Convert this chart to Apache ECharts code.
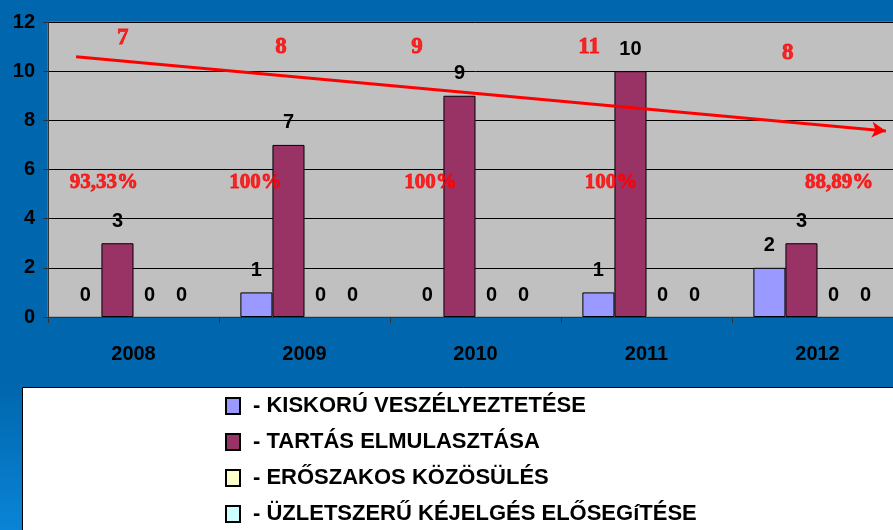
<!DOCTYPE html>
<html>
<head>
<meta charset="utf-8">
<script src="https://cdn.jsdelivr.net/npm/echarts@6/dist/echarts.min.js"></script>
<style>html,body{margin:0;padding:0;background:#0066ad;overflow:hidden;width:893px;height:530px;}#c{width:903px;height:530px;}</style>
</head>
<body>
<div id="c"></div>
<script>
const categories = ['2008', '2009', '2010', '2011', '2012'];
const seriesNames = ['KISKORÚ VESZÉLYEZTETÉSE', 'TARTÁS ELMULASZTÁSA', 'ERŐSZAKOS KÖZÖSÜLÉS', 'ÜZLETSZERŰ KÉJELGÉS ELŐSEGíTÉSE'];
const kiskoru = [0, 1, 0, 1, 2];
const tartas = [3, 7, 9, 10, 3];
const eroszakos = [0, 0, 0, 0, 0];
const uzletszeru = [0, 0, 0, 0, 0];
const seriesColors = ['#9999ff', '#993366', '#ffffcc', '#ccffff'];
const yTicks = { min: 0, max: 12, interval: 2 };
// red annotations: [x position in category units, y value, text]
const totalLabels = [[0.437, 11.35, '7'], [1.363, 11.0, '8'], [2.158, 11.0, '9'], [3.164, 11.0, '11'], [4.326, 10.74, '8']];
const percentLabels = [[0.327, 5.45, '93,33%'], [1.213, 5.45, '100%'], [2.237, 5.45, '100%'], [3.292, 5.45, '100%'], [4.626, 5.45, '88,89%']];
const trendStart = [0.164, 10.59];
const trendEnd = [4.90, 7.57];

const chart = echarts.init(document.getElementById('c'));
const sans = 'Arial, "Liberation Sans", sans-serif';
const serif = 'Liberation Serif';
const barData = [kiskoru, tartas, eroszakos, uzletszeru];

const barSeries = barData.map((d, i) => ({
  name: seriesNames[i],
  type: 'bar',
  data: d.map(v => v === 0 ? { value: v, itemStyle: { borderWidth: 0 } } : v),
  barGap: '0%',
  barCategoryGap: '25%',
  itemStyle: { color: seriesColors[i], borderColor: '#000', borderWidth: 1 },
  label: { show: true, position: 'top', distance: 12, color: '#000', fontFamily: sans, fontWeight: 'bold', fontSize: 20 },
  emphasis: { disabled: true },
  z: 2
}));

function textSeries(arr, size) {
  return {
    type: 'scatter',
    xAxisIndex: 1,
    symbolSize: 1,
    itemStyle: { color: 'rgba(0,0,0,0)' },
    data: arr.map(a => ({ value: [a[0], a[1]], name: a[2] })),
    label: { show: true, position: 'inside', formatter: '{b}', color: '#ff0000', fontFamily: serif, fontWeight: 'bold', fontSize: size, textBorderColor: '#ff0000', textBorderWidth: 0.8 },
    silent: true,
    z: 5
  };
}

chart.setOption({
  backgroundColor: {
    type: 'linear', x: 0, y: 0, x2: 0, y2: 1,
    colorStops: [{ offset: 0, color: '#0066ad' }, { offset: 0.72, color: '#0066ad' }, { offset: 1, color: '#0a84d6' }]
  },
  animation: false,
  graphic: [{
    type: 'rect', left: 22, top: 387, z: -1, silent: true,
    shape: { width: 890, height: 150 },
    style: { fill: '#ffffff', stroke: '#000', lineWidth: 1 }
  }],
  grid: { left: 48, top: 22, right: 0, height: 295, show: true, backgroundColor: '#c0c0c0', borderColor: '#808080', borderWidth: 1 },
  legend: {
    orient: 'vertical',
    left: 225, top: 395,
    data: seriesNames,
    padding: 0,
    itemWidth: 14, itemHeight: 16,
    itemGap: 14,
    icon: 'rect',
    formatter: n => '- ' + n,
    textStyle: { color: '#000', fontFamily: sans, fontWeight: 'bold', fontSize: 22, lineHeight: 20, padding: [0, 0, 0, 8] },
    selectedMode: false
  },
  xAxis: [{
    type: 'category',
    data: categories,
    axisLine: { lineStyle: { color: '#333', width: 1 } },
    axisTick: { show: true, length: 6, lineStyle: { color: '#333' } },
    axisLabel: { color: '#000', fontFamily: sans, fontWeight: 'bold', fontSize: 20, margin: 27 }
  }, {
    type: 'value', min: 0, max: 5, show: false
  }],
  yAxis: {
    type: 'value',
    min: yTicks.min, max: yTicks.max, interval: yTicks.interval,
    axisLine: { show: true, lineStyle: { color: '#333' } },
    axisTick: { show: true, length: 5, lineStyle: { color: '#333' } },
    splitLine: { lineStyle: { color: '#000', width: 1 } },
    axisLabel: { color: '#000', fontFamily: sans, fontWeight: 'bold', fontSize: 20, margin: 13 }
  },
  series: barSeries.concat([
    textSeries(totalLabels, 23),
    textSeries(percentLabels, 21),
    {
      type: 'scatter',
      xAxisIndex: 1,
      symbolSize: 0,
      data: [],
      silent: true,
      z: 6,
      markLine: {
        silent: true,
        symbol: ['none', 'arrow'],
        symbolSize: [12, 14],
        label: { show: false },
        lineStyle: { color: '#ff0000', width: 3, type: 'solid' },
        data: [[{ coord: trendStart }, { coord: trendEnd }]]
      }
    }
  ])
});
</script>
</body>
</html>
